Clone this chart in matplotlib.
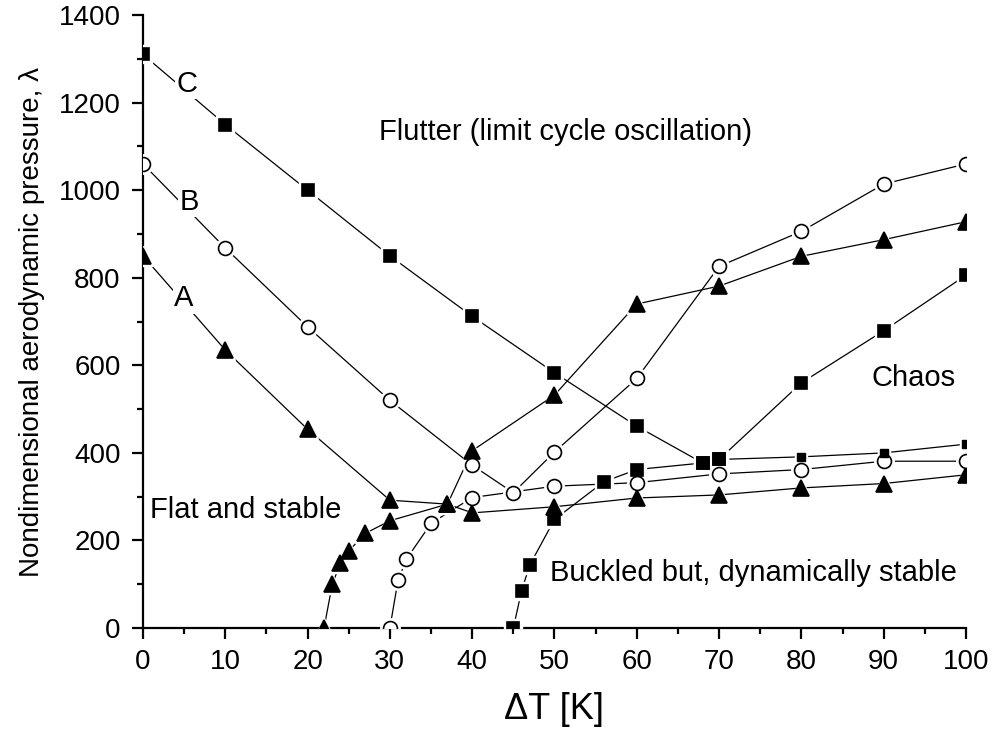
import matplotlib
matplotlib.use("Agg")
import matplotlib.pyplot as plt

plt.rcParams["font.family"] = ["Liberation Sans", "DejaVu Sans"]

# Case A (triangles)
a_upper_x = [0, 10, 20, 30, 37, 40, 50, 60, 70, 80, 90, 100]
a_upper_y = [850, 635, 454, 292, 283, 405, 532, 740, 781, 849, 887, 928]
a_lower_x = [22, 23, 24, 25, 27, 30, 37, 40, 50, 60, 70, 80, 90, 100]
a_lower_y = [0, 100, 149, 176, 216, 245, 283, 263, 277, 297, 304, 320, 330, 350]

# Case B (open circles)
b_upper_x = [0, 10, 20, 30, 40, 45, 50, 60, 70, 80, 90, 100]
b_upper_y = [1060, 868, 688, 520, 372, 309, 402, 570, 826, 906, 1014, 1060]
b_lower_x = [30, 31, 32, 35, 40, 50, 60, 70, 80, 90, 100]
b_lower_y = [0, 110, 157, 239, 298, 324, 332, 352, 362, 381, 381]

# Case C (squares)
c_flutter_x = [0, 10, 20, 30, 40, 50, 60, 68]
c_flutter_y = [1310, 1150, 1000, 850, 712, 583, 461, 377]
c_lower_x = [45, 46, 47, 50, 56, 60, 68, 70, 80, 90, 100]
c_lower_y = [0, 85, 144, 248, 334, 362, 377, 385, 391, 400, 420]
c_chaos_x = [70, 80, 90, 100]
c_chaos_y = [385, 560, 679, 806]

fig = plt.figure(figsize=(9.97, 7.42), dpi=100)
ax = fig.add_axes([0.1434, 0.1536, 0.8255, 0.8261])


def draw(x, y, marker, ms, face, n_big=None, small_ms=None):
    ax.plot(x, y, color="black", lw=0.9, zorder=2)
    if n_big is None:
        n_big = len(x)
    # white halo so lines stop short of the markers
    ax.plot(x[:n_big], y[:n_big], ls="none", marker=marker, ms=ms + 4,
            mfc="white", mec="white", zorder=3)
    ax.plot(x[:n_big], y[:n_big], ls="none", marker=marker, ms=ms,
            mfc=face, mec="black", mew=1.2, zorder=4)
    if small_ms is not None:
        ax.plot(x[n_big:], y[n_big:], ls="none", marker=marker, ms=small_ms + 3,
                mfc="white", mec="white", zorder=3)
        ax.plot(x[n_big:], y[n_big:], ls="none", marker=marker, ms=small_ms,
                mfc=face, mec="black", zorder=4)


draw(a_upper_x, a_upper_y, "^", 11, "black")
draw(a_lower_x, a_lower_y, "^", 11, "black")
draw(b_upper_x, b_upper_y, "o", 10, "white")
draw(b_lower_x, b_lower_y, "o", 10, "white")
draw(c_flutter_x, c_flutter_y, "s", 9, "black")
draw(c_lower_x, c_lower_y, "s", 9, "black", n_big=8, small_ms=6)
draw(c_chaos_x, c_chaos_y, "s", 9, "black")

ax.set_xlim(0, 100)
ax.set_ylim(0, 1400)
ax.set_xticks(range(0, 101, 10))
ax.set_xticks(range(5, 100, 10), minor=True)
ax.set_yticks(range(0, 1401, 200))
ax.set_yticks(range(100, 1400, 200), minor=True)
ax.spines["top"].set_visible(False)
ax.spines["right"].set_visible(False)
for s in ("left", "bottom"):
    ax.spines[s].set_linewidth(1.6)
ax.tick_params(which="major", direction="out", length=8, width=1.6,
               labelsize=20)
ax.tick_params(axis="y", which="major", pad=8)
ax.tick_params(axis="x", which="major", pad=7)
ax.tick_params(which="minor", direction="out", length=4.5, width=1.6)

ax.set_xlabel("ΔT [K]", fontsize=26, labelpad=12)
ax.set_ylabel("Nondimensional aerodynamic pressure, λ", fontsize=20, labelpad=10)

box = dict(facecolor="white", edgecolor="none", pad=1)
ax.text(5.3, 1243, "C", fontsize=21, ha="center", va="center", bbox=box, zorder=5)
ax.text(5.6, 973, "B", fontsize=21, ha="center", va="center", bbox=box, zorder=5)
ax.text(5.0, 753, "A", fontsize=21, ha="center", va="center", bbox=box, zorder=5)
ax.text(28.7, 1133, "Flutter (limit cycle oscillation)", fontsize=21,
        ha="left", va="center")
ax.text(93.6, 570, "Chaos", fontsize=21, ha="center", va="center")
ax.text(0.85, 269, "Flat and stable", fontsize=21, ha="left", va="center")
ax.text(49.5, 125, "Buckled but, dynamically stable", fontsize=21,
        ha="left", va="center")

fig.savefig("out.png", dpi=100)
